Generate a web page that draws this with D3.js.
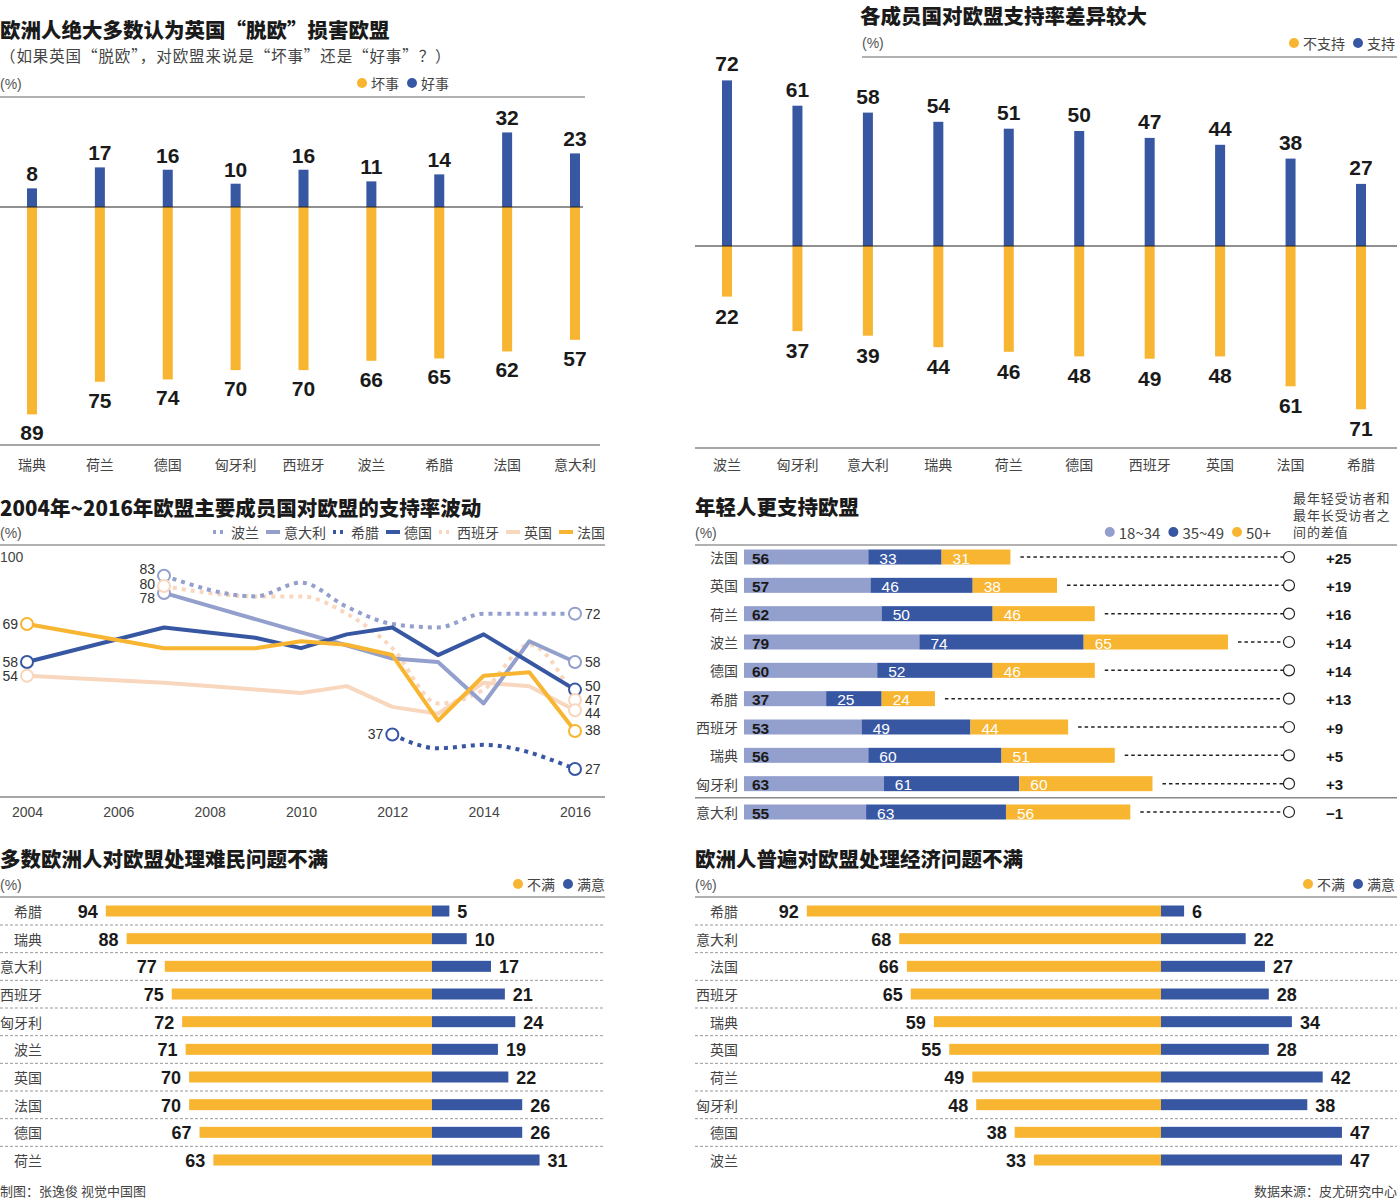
<!DOCTYPE html>
<html><head><meta charset="utf-8">
<script src="https://cdn.jsdelivr.net/npm/d3@7"></script>
<style>
html,body{margin:0;padding:0;background:#fff;}
svg{display:block;font-family:"Liberation Sans","Noto Sans CJK SC",sans-serif;}
.cn{font-family:"Noto Sans CJK SC","Liberation Sans",sans-serif;}
</style></head><body>
<svg id="c" width="1397" height="1200"></svg>
<script>
// ---------- DATA ----------
// Panel 1: Brexit bad / good for EU
const p1Countries = ["瑞典","荷兰","德国","匈牙利","西班牙","波兰","希腊","法国","意大利"];
const p1Bad  = [89,75,74,70,70,66,65,62,57];
const p1Good = [8,17,16,10,16,11,14,32,23];

// Panel 2: support / oppose EU
const p2Countries = ["波兰","匈牙利","意大利","瑞典","荷兰","德国","西班牙","英国","法国","希腊"];
const p2Support = [72,61,58,54,51,50,47,44,38,27];
const p2Oppose  = [22,37,39,44,46,48,49,48,61,71];

// Panel 3: favorability 2004-2016
const yearTicks = [2004,2006,2008,2010,2012,2014,2016];
const polandYears  = [2007,2009,2010,2011,2012,2013,2014,2015,2016];
const polandValues = [83,77,81,74,69,68,72,72,72];
const italyYears   = [2007,2012,2013,2014,2015,2016];
const italyValues  = [78,59,58,46,64,58];
const greeceYears  = [2012,2013,2014,2016];
const greeceValues = [37,33,34,27];
const germanyYears  = [2004,2007,2009,2010,2011,2012,2013,2014,2015,2016];
const germanyValues = [58,68,65,62,66,68,60,66,58,50];
const spainYears  = [2007,2009,2010,2011,2012,2013,2014,2015,2016];
const spainValues = [80,77,77,72,62,46,50,63,47];
const ukYears  = [2004,2007,2009,2010,2011,2012,2013,2014,2015,2016];
const ukValues = [54,52,50,49,51,45,43,52,51,44];
const franceYears  = [2004,2007,2009,2010,2011,2012,2013,2014,2015,2016];
const franceValues = [69,62,62,64,63,60,41,54,55,38];

// Panel 4: by age group
const p4Countries = ["法国","英国","荷兰","波兰","德国","希腊","西班牙","瑞典","匈牙利","意大利"];
const p4Young = [56,57,62,79,60,37,53,56,63,55];
const p4Mid   = [33,46,50,74,52,25,49,60,61,63];
const p4Old   = [31,38,46,65,46,24,44,51,60,56];
const p4Diff  = ["+25","+19","+16","+14","+14","+13","+9","+5","+3","−1"];

// Panel 5: refugees
const p5Countries = ["希腊","瑞典","意大利","西班牙","匈牙利","波兰","英国","法国","德国","荷兰"];
const p5Dis = [94,88,77,75,72,71,70,70,67,63];
const p5Sat = [5,10,17,21,24,19,22,26,26,31];

// Panel 6: economy
const p6Countries = ["希腊","意大利","法国","西班牙","瑞典","英国","荷兰","匈牙利","德国","波兰"];
const p6Dis = [92,68,66,65,59,55,49,48,38,33];
const p6Sat = [6,22,27,28,34,28,42,38,47,47];

// ---------- STYLE ----------
const YEL = "#F7B531", BLU = "#3757A3", SLA = "#939FCC", PEA = "#F8D7BE";
const DARK = "#1a1a1a", GRAY = "#555";
const svg = d3.select("#c");
svg.append("rect").attr("width",1397).attr("height",1200).attr("fill","#fff");

function txt(g,x,y,s,o={}){
  const t = g.append("text").attr("x",x).attr("y",y).text(s)
    .attr("font-size",o.size||14).attr("fill",o.fill||GRAY)
    .attr("text-anchor",o.anchor||"start");
  if(o.weight) t.attr("font-weight",o.weight);
  if(o.cn) t.attr("class","cn");
  if(o.db) t.attr("dominant-baseline",o.db);
  if(o.ls) t.attr("letter-spacing",o.ls);
  return t;
}
function hline(x1,x2,y,o={}){
  const l = svg.append("line").attr("x1",x1).attr("x2",x2).attr("y1",y).attr("y2",y)
   .attr("stroke",o.stroke||"#999").attr("stroke-width",o.w||1.5);
  if(o.dash) l.attr("stroke-dasharray",o.dash);
  return l;
}
function legendDots(items, xEnd, y, size){
  let x = xEnd;
  const g = svg.append("g");
  for(let i=items.length-1;i>=0;i--){
    const t = txt(g,x,y,items[i][0],{size:size||14,anchor:"end",cn:true,fill:"#444",db:"central"});
    const w = t.node().getComputedTextLength();
    g.append("circle").attr("cx",x-w-9).attr("cy",y).attr("r",5).attr("fill",items[i][1]);
    x = x - w - 22;
  }
}
const TS = 20.5;

// ---------- PANEL 1 ----------
{
  const g = svg.append("g");
  txt(g,0,37.5,"欧洲人绝大多数认为英国“脱欧”损害欧盟",{size:TS,weight:900,fill:DARK,cn:true});
  txt(g,0,62,"（如果英国“脱欧”，对欧盟来说是“坏事”还是“好事”？）",{size:15.5,fill:"#444",cn:true,ls:0.9});
  txt(g,0,89,"(%)",{size:14,fill:"#555"});
  legendDots([["坏事",YEL],["好事",BLU]],449,83);
  hline(0,585,97);
  const x = d3.scalePoint().domain(p1Countries).range([32,575]);
  const y = d3.scaleLinear().domain([-100,100]).range([207+233,207-233]);
  const bw = 10;
  p1Countries.forEach((c,i)=>{
    g.append("rect").attr("x",x(c)-bw/2).attr("width",bw).attr("y",y(0)).attr("height",y(-p1Bad[i])-y(0)).attr("fill",YEL);
    g.append("rect").attr("x",x(c)-bw/2).attr("width",bw).attr("y",y(p1Good[i])).attr("height",y(0)-y(p1Good[i])).attr("fill",BLU);
    txt(g,x(c),y(p1Good[i])-7,p1Good[i],{size:21,weight:"bold",fill:DARK,anchor:"middle"});
    txt(g,x(c),y(-p1Bad[i])+26,p1Bad[i],{size:21,weight:"bold",fill:DARK,anchor:"middle"});
    txt(g,x(c),470,c,{size:14,fill:"#444",anchor:"middle",cn:true});
  });
  hline(0,583,y(0),{stroke:"#222",w:1});
  hline(0,600,445,{stroke:"#888",w:1.5});
}

// ---------- PANEL 2 ----------
{
  const g = svg.append("g");
  txt(g,860,24,"各成员国对欧盟支持率差异较大",{size:TS,weight:900,fill:DARK,cn:true});
  txt(g,862,48,"(%)",{size:14,fill:"#555"});
  legendDots([["不支持",YEL],["支持",BLU]],1395,43);
  hline(862,1397,57);
  const x = d3.scalePoint().domain(p2Countries).range([727,1361]);
  const y = d3.scaleLinear().domain([-100,100]).range([246+230,246-230]);
  const bw = 10;
  p2Countries.forEach((c,i)=>{
    g.append("rect").attr("x",x(c)-bw/2).attr("width",bw).attr("y",y(0)).attr("height",y(-p2Oppose[i])-y(0)).attr("fill",YEL);
    g.append("rect").attr("x",x(c)-bw/2).attr("width",bw).attr("y",y(p2Support[i])).attr("height",y(0)-y(p2Support[i])).attr("fill",BLU);
    txt(g,x(c),y(p2Support[i])-9,p2Support[i],{size:21,weight:"bold",fill:DARK,anchor:"middle"});
    txt(g,x(c),y(-p2Oppose[i])+27,p2Oppose[i],{size:21,weight:"bold",fill:DARK,anchor:"middle"});
    txt(g,x(c),470,c,{size:14,fill:"#444",anchor:"middle",cn:true});
  });
  hline(695,1397,y(0),{stroke:"#222",w:1});
  hline(695,1397,448,{stroke:"#888",w:1.5});
}

// ---------- PANEL 3 ----------
{
  const g = svg.append("g");
  txt(g,0,516,"2004年~2016年欧盟主要成员国对欧盟的支持率波动",{size:TS,weight:900,fill:DARK,cn:true});
  txt(g,0,538,"(%)",{size:14,fill:"#555"});
  hline(0,605,545);
  const x = d3.scaleLinear().domain([2004,2016]).range([27,575]);
  const y = d3.scaleLinear().domain([27,69]).range([769,624]);
  txt(g,0,562,"100",{size:14,fill:"#444"});
  const ax = g.append("g").attr("transform","translate(0,797)")
    .call(d3.axisBottom(x).tickValues(yearTicks).tickFormat(d3.format("d")).tickSize(0).tickPadding(10));
  ax.select(".domain").remove();
  ax.selectAll("text").attr("font-size",14).attr("fill","#444").attr("font-family","Liberation Sans");
  hline(0,605,797,{stroke:"#888",w:1.5});

  const series = [
    {name:"波兰",years:polandYears,values:polandValues,color:SLA,dash:"4,5",curve:d3.curveMonotoneX,sdy:-7,edy:0},
    {name:"意大利",years:italyYears,values:italyValues,color:SLA,dash:null,curve:d3.curveLinear,sdy:5,edy:0},
    {name:"希腊",years:greeceYears,values:greeceValues,color:BLU,dash:"4,5",curve:d3.curveMonotoneX,sdy:0,edy:0},
    {name:"德国",years:germanyYears,values:germanyValues,color:BLU,dash:null,curve:d3.curveLinear,sdy:0,edy:-4},
    {name:"西班牙",years:spainYears,values:spainValues,color:PEA,dash:"4,5",curve:d3.curveMonotoneX,sdy:-2,edy:0},
    {name:"英国",years:ukYears,values:ukValues,color:PEA,dash:null,curve:d3.curveLinear,sdy:0,edy:3},
    {name:"法国",years:franceYears,values:franceValues,color:YEL,dash:null,curve:d3.curveLinear,sdy:0,edy:-1}
  ];
  const drawOrder = ["英国","西班牙","波兰","意大利","希腊","德国","法国"];
  drawOrder.forEach(n=>{
    const s = series.find(d=>d.name===n);
    const pts = s.years.map((yr,i)=>[yr,s.values[i]]);
    const line = d3.line().x(d=>x(d[0])).y(d=>y(d[1])).curve(s.curve);
    const p = g.append("path").attr("d",line(pts)).attr("fill","none").attr("stroke",s.color)
      .attr("stroke-width",4).attr("stroke-linejoin","round");
    if(s.dash) p.attr("stroke-dasharray",s.dash);
  });
  series.forEach(s=>{
    const n = s.years.length;
    [[s.years[0],s.values[0]],[s.years[n-1],s.values[n-1]]].forEach(d=>{
      g.append("circle").attr("cx",x(d[0])).attr("cy",y(d[1])).attr("r",6)
        .attr("fill","#fff").attr("stroke",s.color).attr("stroke-width",2);
    });
  });
  series.forEach(s=>{
    const v=s.values[0], yr=s.years[0];
    txt(g,x(yr)-9,y(v)+s.sdy,v,{size:14,fill:"#333",anchor:"end",db:"central"});
    const n=s.years.length; const ve=s.values[n-1];
    txt(g,x(s.years[n-1])+10,y(ve)+s.edy,ve,{size:14,fill:"#333",db:"central"});
  });
  let lx = 213;
  series.forEach(s=>{
    const l = g.append("line").attr("x1",lx).attr("x2",lx+14).attr("y1",532).attr("y2",532)
      .attr("stroke",s.color).attr("stroke-width",4);
    if(s.dash) l.attr("stroke-dasharray","3,4");
    const t = txt(g,lx+18,532,s.name,{size:14,fill:"#444",cn:true,db:"central"});
    lx += 18 + t.node().getComputedTextLength() + 7;
  });
}

// ---------- PANEL 4 ----------
{
  const g = svg.append("g");
  txt(g,695,515,"年轻人更支持欧盟",{size:TS,weight:900,fill:DARK,cn:true});
  txt(g,695,538,"(%)",{size:14,fill:"#555"});
  legendDots([["18~34",SLA],["35~49",BLU],["50+",YEL]],1271,532,15);
  txt(g,1293,503,"最年轻受访者和",{size:13,fill:"#444",cn:true,ls:0.9});
  txt(g,1293,520,"最年长受访者之",{size:13,fill:"#444",cn:true,ls:0.9});
  txt(g,1293,537,"间的差值",{size:13,fill:"#444",cn:true,ls:0.9});
  hline(695,1397,545);
  const y = d3.scalePoint().domain(p4Countries).range([557,812]);
  const x = d3.scaleLinear().domain([0,100]).range([744,966]);
  const bh = 15, cx = 1289;
  p4Countries.forEach((c,i)=>{
    const yy = y(c);
    const segs = [[0,p4Young[i],SLA],[p4Young[i],p4Young[i]+p4Mid[i],BLU],[p4Young[i]+p4Mid[i],p4Young[i]+p4Mid[i]+p4Old[i],YEL]];
    const vals = [p4Young[i],p4Mid[i],p4Old[i]];
    segs.forEach((s,k)=>{
      g.append("rect").attr("x",x(s[0])).attr("width",x(s[1])-x(s[0])).attr("y",yy-bh/2).attr("height",bh).attr("fill",s[2]);
      txt(g,x(s[0])+(k===0?8:11),yy+1,vals[k],{size:15.5,weight:k===0?"bold":"normal",fill:k===0?DARK:"#fff",db:"central"});
    });
    const end = x(segs[2][1]);
    g.append("line").attr("x1",end+10).attr("x2",cx-6).attr("y1",yy).attr("y2",yy)
      .attr("stroke","#222").attr("stroke-width",1.5).attr("stroke-dasharray","3.5,3");
    g.append("circle").attr("cx",cx).attr("cy",yy).attr("r",5.5).attr("fill","#fff").attr("stroke","#222").attr("stroke-width",1.2);
    txt(g,1326,yy+1,p4Diff[i],{size:15,weight:"bold",fill:DARK,db:"central"});
    txt(g,738,yy,c,{size:14,fill:"#444",anchor:"end",cn:true,db:"central"});
  });
  hline(695,1397,(y(p4Countries[8])+y(p4Countries[9]))/2,{stroke:"#888",w:1.5});
}

// ---------- PANEL 5 & 6 ----------
function divPanel(x0,x1,title,countries,dis,sat,mid,scaleW,labelX,legendEnd){
  const g = svg.append("g");
  txt(g,x0,867,title,{size:TS,weight:900,fill:DARK,cn:true});
  txt(g,x0,890,"(%)",{size:14,fill:"#555"});
  legendDots([["不满",YEL],["满意",BLU]],legendEnd,884);
  hline(x0,x1,897);
  const y = d3.scalePoint().domain(countries).range([911,1160]);
  const s = d3.scaleLinear().domain([0,100]).range([0,scaleW]);
  const bh = 11;
  countries.forEach((c,i)=>{
    const yy = y(c);
    g.append("rect").attr("x",mid-s(dis[i])).attr("width",s(dis[i])).attr("y",yy-bh/2).attr("height",bh).attr("fill",YEL);
    g.append("rect").attr("x",mid).attr("width",s(sat[i])).attr("y",yy-bh/2).attr("height",bh).attr("fill",BLU);
    txt(g,mid-s(dis[i])-8,yy+1,dis[i],{size:18,weight:"bold",fill:DARK,anchor:"end",db:"central"});
    txt(g,mid+s(sat[i])+8,yy+1,sat[i],{size:18,weight:"bold",fill:DARK,db:"central"});
    txt(g,labelX,yy,c,{size:14,fill:"#444",anchor:"end",cn:true,db:"central"});
    if(i<countries.length-1){
      hline(x0,x1,yy+14,{stroke:"#999",w:1,dash:"3,2"});
    }
  });
}
divPanel(0,605,"多数欧洲人对欧盟处理难民问题不满",p5Countries,p5Dis,p5Sat,432,347,42,605);
divPanel(695,1397,"欧洲人普遍对欧盟处理经济问题不满",p6Countries,p6Dis,p6Sat,1161,385,738,1395);

// footer
txt(svg,0,1196,"制图：张逸俊  视觉中国图",{size:13,fill:"#444",cn:true});
txt(svg,1397,1196,"数据来源：皮尤研究中心",{size:13,fill:"#444",anchor:"end",cn:true});
</script>
</body></html>
